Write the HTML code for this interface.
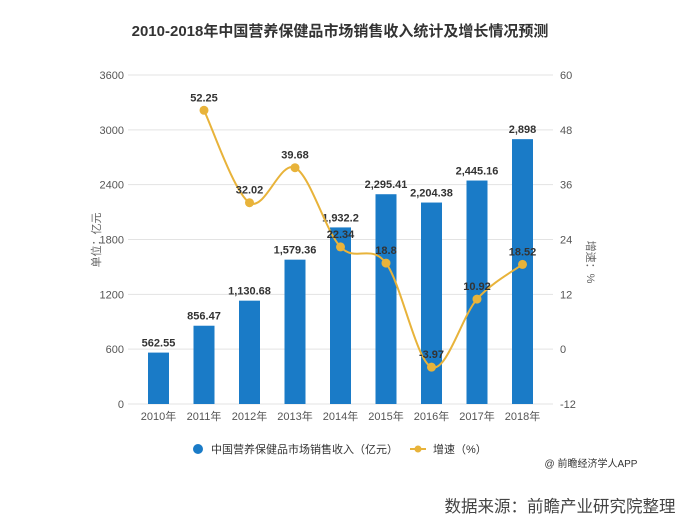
<!DOCTYPE html>
<html><head><meta charset="utf-8"><style>
html,body{margin:0;padding:0;background:#fff;width:680px;height:529px;overflow:hidden}
svg text{font-family:"Liberation Sans","Noto Sans CJK SC",sans-serif}
</style></head><body>
<svg id="s" width="680" height="529" xmlns="http://www.w3.org/2000/svg">
<text x="340" y="36" text-anchor="middle" font-size="15" font-weight="bold" fill="#333">2010-2018年中国营养保健品市场销售收入统计及增长情况预测</text>
<g id="g"></g>
<text x="0" y="0" transform="translate(100,240) rotate(-90)" text-anchor="middle" font-size="11" fill="#666">单位：亿元</text>
<text x="0" y="0" transform="translate(587,262) rotate(90)" text-anchor="middle" font-size="11" fill="#666">增速：%</text>
<circle cx="198" cy="449" r="5" fill="#1a7bc7"/>
<text x="211" y="453" font-size="11" fill="#333">中国营养保健品市场销售收入（亿元）</text>
<line x1="410" y1="449" x2="426" y2="449" stroke="#e8b33a" stroke-width="2"/>
<circle cx="418" cy="449" r="3.5" fill="#e8b33a"/>
<text x="433" y="453" font-size="11" fill="#333">增速（%）</text>
<text x="591" y="467" text-anchor="middle" font-size="10" fill="#333">@ 前瞻经济学人APP</text>
<text x="560" y="512" text-anchor="middle" font-size="16.5" fill="#444">数据来源：前瞻产业研究院整理</text>
</svg>
<script>
var g=document.getElementById('g'),h='';
for(var i=0;i<=6;i++){var y=404-i*54.83;h+='<line x1="128" x2="553" y1="'+y+'" y2="'+y+'" stroke="#e3e3e3"/>';
h+='<text x="124" y="'+(y+4)+'" text-anchor="end" font-size="11" fill="#555">'+(i*600)+'</text>';
h+='<text x="560" y="'+(y+4)+'" font-size="11" fill="#555">'+(-12+i*12)+'</text>';}
var v=[562.55,856.47,1130.68,1579.36,1932.2,2295.41,2204.38,2445.16,2898];
var lab=['562.55','856.47','1,130.68','1,579.36','1,932.2','2,295.41','2,204.38','2,445.16','2,898'];
var gr=[null,52.25,32.02,39.68,22.34,18.8,-3.97,10.92,18.52];
for(var i=0;i<9;i++){var cx=158.5+i*45.5,t=404-v[i]*0.09139;
h+='<rect x="'+(cx-10.5)+'" y="'+t+'" width="21" height="'+(404-t)+'" fill="#1a7bc7"/>';
h+='<text x="'+cx+'" y="'+(t-6)+'" text-anchor="middle" font-size="11" font-weight="bold" fill="#333">'+lab[i]+'</text>';
h+='<text x="'+cx+'" y="420" text-anchor="middle" font-size="11" fill="#555">'+(2010+i)+'年</text>';}
var p=[];for(var i=1;i<9;i++)p.push([158.5+i*45.5,349-gr[i]*4.569]);
var d='M'+p[0][0]+','+p[0][1];
for(var i=0;i<p.length-1;i++){var p0=p[i-1]||p[i],p1=p[i],p2=p[i+1],p3=p[i+2]||p2;
d+=' C'+(p1[0]+(p2[0]-p0[0])/6)+','+(p1[1]+(p2[1]-p0[1])/6)+' '+(p2[0]-(p3[0]-p1[0])/6)+','+(p2[1]-(p3[1]-p1[1])/6)+' '+p2[0]+','+p2[1];}
h+='<path d="'+d+'" fill="none" stroke="#e8b33a" stroke-width="2"/>';
for(var i=0;i<p.length;i++){h+='<circle cx="'+p[i][0]+'" cy="'+p[i][1]+'" r="4.5" fill="#e8b33a"/>';
h+='<text x="'+p[i][0]+'" y="'+(p[i][1]-9)+'" text-anchor="middle" font-size="11" font-weight="bold" fill="#333">'+gr[i+1]+'</text>';}
g.innerHTML=h;
</script>
</body></html>
